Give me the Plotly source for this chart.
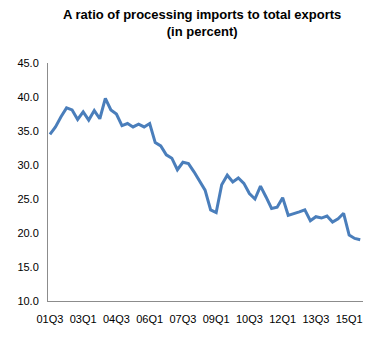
import plotly.graph_objects as go

quarters = []
for y in range(2001, 2016):
    for q in range(1, 5):
        if (y == 2001 and q < 3) or (y == 2015 and q > 3):
            continue
        quarters.append(f"{y % 100:02d}Q{q}")

ratio = [34.5, 35.6, 37.1, 38.4, 38.1, 36.7, 37.8, 36.6, 38.0, 36.8,
         39.8, 38.1, 37.5, 35.8, 36.1, 35.6, 36.0, 35.6, 36.1, 33.3,
         32.8, 31.5, 31.0, 29.3, 30.4, 30.2, 29.0, 27.7, 26.3, 23.4,
         23.0, 27.1, 28.5, 27.5, 28.1, 27.3, 25.8, 25.0, 26.9, 25.3,
         23.6, 23.8, 25.2, 22.6, 22.8, 23.1, 23.4, 21.8, 22.4, 22.2,
         22.5, 21.6, 22.1, 22.9, 19.7, 19.2, 19.0]

tick_labels = ["01Q3", "03Q1", "04Q3", "06Q1", "07Q3", "09Q1", "10Q3", "12Q1", "13Q3", "15Q1"]
y_ticks = [10, 15, 20, 25, 30, 35, 40, 45]

font_family = "Liberation Sans Narrow, Arial Narrow, Liberation Sans, Arial, sans-serif"

x_idx = list(range(len(quarters)))
tick_pos = [quarters.index(t) for t in tick_labels]

fig = go.Figure()
fig.add_trace(go.Scatter(x=x_idx, y=ratio, mode="lines",
                         line=dict(color="#4a7ebb", width=3),
                         hoverinfo="skip"))

fig.update_layout(
    width=389, height=340,
    margin=dict(l=48, r=26, t=63, b=39),
    paper_bgcolor="white", plot_bgcolor="white",
    showlegend=False,
    font=dict(family=font_family, size=11, color="black"),
    annotations=[dict(text="<b>A ratio of processing imports to total exports<br>(in percent)</b>",
                      xref="paper", yref="paper", x=0.488, y=(340 - 39 - 5) / (340 - 63 - 39),
                      xanchor="center", yanchor="top", showarrow=False,
                      font=dict(family=font_family, size=13, color="black"))],
)
fig.update_xaxes(range=[-0.35, 56.5], tickmode="array", tickvals=tick_pos, ticktext=tick_labels,
                 showgrid=False, zeroline=False, showline=True, linecolor="#8c8c8c", linewidth=1,
                 ticks="", ticklabelstandoff=8, tickfont=dict(size=11), fixedrange=True)
fig.update_yaxes(range=[10, 45], tickmode="array", tickvals=y_ticks,
                 ticktext=[f"{v:.1f}" for v in y_ticks],
                 showgrid=False, zeroline=False, showline=True, linecolor="#8c8c8c", linewidth=1,
                 ticks="", ticklabelstandoff=6, tickfont=dict(size=11), fixedrange=True)

fig.write_html("out.html", config={"displayModeBar": False})
